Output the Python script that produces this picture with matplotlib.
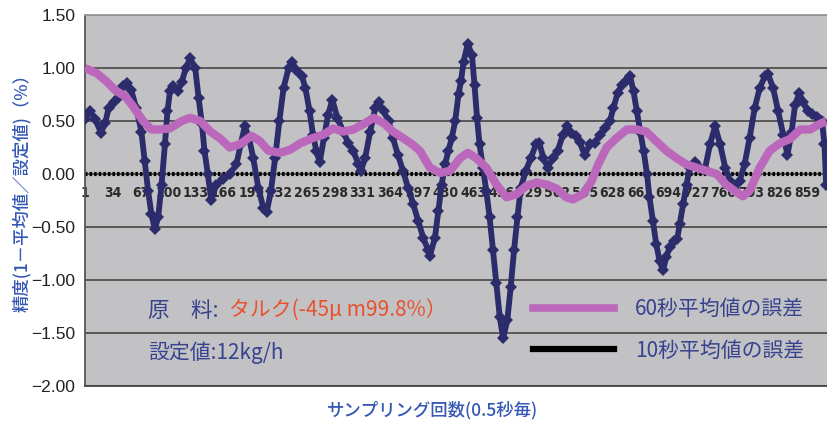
import matplotlib
matplotlib.use("Agg")
import matplotlib.pyplot as plt
from matplotlib.lines import Line2D

plt.rcParams['font.family'] = ['Noto Sans CJK JP', 'DejaVu Sans']

# ---- data -------------------------------------------------------------
# sample index (0.5 s per sample) and deviation of the individual readings (%)
raw_samples = [1, 7, 13, 20, 25, 29, 35, 41, 46, 51, 56, 62, 68, 72, 76, 80, 84, 88, 92, 96,
               99, 102, 106, 111, 116, 121, 126, 132, 136, 140, 143, 147, 151, 157, 165, 173,
               181, 186, 191, 196, 201, 207, 213, 217, 222, 227, 232, 237, 243, 247, 252, 259,
               263, 268, 272, 276, 280, 285, 290, 295, 301, 308, 314, 320, 326, 329, 334, 340,
               346, 350, 356, 362, 367, 373, 379, 385, 391, 397, 403, 409, 411, 417, 421, 425,
               429, 433, 437, 441, 445, 448, 451, 456, 461, 464, 467, 470, 474, 478, 482, 486,
               490, 494, 498, 503, 507, 511, 515, 519, 525, 531, 537, 541, 546, 551, 557, 563,
               569, 574, 579, 585, 589, 595, 601, 607, 613, 619, 625, 629, 634, 639, 645, 649,
               653, 657, 661, 665, 669, 672, 676, 680, 684, 688, 692, 696, 701, 705, 708, 712,
               716, 720, 726, 732, 738, 744, 750, 756, 762, 768, 773, 779, 785, 791, 797, 803,
               809, 813, 819, 825, 831, 836, 841, 845, 850, 855, 860, 865, 871, 877, 880, 882]
raw_error = [0.52, 0.59, 0.52, 0.39, 0.48, 0.62, 0.68, 0.73, 0.83, 0.86, 0.79, 0.62, 0.40, 0.12,
             -0.16, -0.38, -0.52, -0.41, -0.10, 0.28, 0.59, 0.78, 0.83, 0.78, 0.87, 1.00, 1.09,
             1.00, 0.72, 0.47, 0.22, 0.00, -0.25, -0.10, -0.05, 0.00, 0.09, 0.28, 0.45, 0.34,
             0.15, -0.13, -0.32, -0.36, -0.16, 0.15, 0.50, 0.81, 1.00, 1.06, 0.98, 0.92, 0.81,
             0.59, 0.37, 0.22, 0.11, 0.34, 0.56, 0.70, 0.53, 0.40, 0.29, 0.22, 0.09, 0.03, 0.15,
             0.40, 0.62, 0.68, 0.59, 0.50, 0.34, 0.18, 0.03, -0.13, -0.28, -0.44, -0.60, -0.72,
             -0.77, -0.60, -0.35, -0.10, 0.09, 0.22, 0.34, 0.50, 0.75, 0.88, 1.06, 1.23, 1.12,
             0.84, 0.53, 0.28, 0.06, -0.16, -0.41, -0.72, -1.03, -1.35, -1.55, -1.38, -1.07,
             -0.72, -0.41, -0.13, 0.03, 0.15, 0.28, 0.29, 0.15, 0.06, 0.15, 0.22, 0.37, 0.45,
             0.39, 0.36, 0.30, 0.18, 0.28, 0.29, 0.37, 0.43, 0.50, 0.62, 0.76, 0.84, 0.89, 0.92,
             0.78, 0.59, 0.40, 0.22, 0.00, -0.22, -0.44, -0.66, -0.82, -0.91, -0.78, -0.69,
             -0.63, -0.61, -0.47, -0.28, -0.10, 0.06, 0.11, 0.06, 0.05, 0.28, 0.45, 0.28, 0.06,
             -0.07, -0.13, -0.07, 0.09, 0.34, 0.62, 0.81, 0.92, 0.94, 0.81, 0.59, 0.37, 0.18,
             0.40, 0.65, 0.76, 0.68, 0.59, 0.57, 0.54, 0.50, 0.28, -0.10]

# 60-second moving-average error (%)
avg60_samples = [1, 15, 27, 37, 49, 58, 70, 80, 90, 102, 116, 126, 138, 150, 161, 173, 185, 199,
                 209, 219, 233, 245, 257, 272, 284, 296, 308, 320, 332, 344, 356, 367, 379, 390,
                 399, 411, 423, 435, 447, 456, 466, 478, 490, 502, 514, 526, 538, 550, 562, 573,
                 581, 593, 603, 611, 621, 633, 645, 657, 668, 680, 692, 704, 716, 728, 740, 752,
                 763, 775, 783, 791, 803, 815, 827, 839, 851, 863, 874, 882]
avg60_error = [1.00, 0.95, 0.87, 0.79, 0.73, 0.64, 0.50, 0.42, 0.42, 0.43, 0.50, 0.53, 0.50,
               0.40, 0.34, 0.25, 0.28, 0.36, 0.31, 0.22, 0.20, 0.23, 0.29, 0.34, 0.37, 0.43,
               0.40, 0.42, 0.47, 0.53, 0.48, 0.40, 0.34, 0.28, 0.22, 0.06, 0.01, 0.03, 0.15,
               0.20, 0.15, 0.06, -0.10, -0.22, -0.19, -0.11, -0.08, -0.10, -0.14, -0.22, -0.24,
               -0.19, -0.07, 0.09, 0.25, 0.34, 0.42, 0.42, 0.40, 0.31, 0.22, 0.15, 0.09, 0.06,
               0.03, 0.00, -0.10, -0.17, -0.21, -0.16, 0.06, 0.22, 0.29, 0.33, 0.42, 0.42, 0.47,
               0.50]

# 10-second average error (%)
avg10_samples = [1, 883]
avg10_error = [0.0, 0.0]

category_labels = ['1', '34', '67', '100', '133', '166', '199', '232', '265', '298', '331',
                   '364', '397', '430', '463', '496', '529', '562', '595', '628', '661', '694',
                   '727', '760', '793', '826', '859']
y_ticks = [-2.0, -1.5, -1.0, -0.5, 0.0, 0.5, 1.0, 1.5]

# ---- styling ----------------------------------------------------------
NAVY = '#2c2b6b'
PINK = '#bb68bc'
BLUE = '#3458b4'
TEXT_NAVY = '#37438f'
RED = '#e8512d'

W, H = 827, 421
fig = plt.figure(figsize=(W / 100, H / 100), dpi=100)
fig.patch.set_facecolor('white')
ax = fig.add_axes([85 / W, 35 / H, (W - 85) / W, 371 / H])
ax.set_facecolor('#c2c2c4')

ax.set_xlim(1, 883)
ax.set_ylim(-2.0, 1.5)
ax.set_yticks(y_ticks)
ax.set_yticklabels([f"{v:.2f}".replace('-', '\u2212') for v in y_ticks],
                   family=['Liberation Sans', 'DejaVu Sans'], fontsize=12.5, color='#222222')
ax.tick_params(axis='y', length=0, pad=7)
ax.set_xticks([])
ax.grid(axis='y', color='#505050', linewidth=1.3, zorder=0)
ax.set_axisbelow(True)

ax.spines['right'].set_visible(False)
ax.spines['top'].set_color('#9a9a9a')
ax.spines['left'].set_color('#555555')
ax.spines['bottom'].set_color('#444444')
for side in ('top', 'left', 'bottom'):
    ax.spines[side].set_linewidth(1.3)

# category labels sit inside the plot just under the zero line
for lbl in category_labels:
    ax.text(int(lbl), -0.175, lbl, ha='center', va='center', fontsize=10,
            family='DejaVu Sans', fontstretch='condensed', fontweight='bold',
            color='#2a2a2a', zorder=1.5)

# series
ax.plot(avg10_samples, avg10_error, color='black', linewidth=3,
        linestyle=(0, (0.6, 0.5)), zorder=2)
ax.plot(raw_samples, raw_error, color=NAVY, linewidth=4.2, marker='D', markersize=6,
        markeredgewidth=0, solid_joinstyle='round', zorder=3)
ax.plot(avg60_samples, avg60_error, color=PINK, linewidth=6, solid_capstyle='butt',
        solid_joinstyle='round', zorder=4)

# legend
handles = [Line2D([], [], color=PINK, linewidth=5.5),
           Line2D([], [], color='black', linewidth=4.5)]
ax.legend(handles, ['60秒平均値の誤差', '10秒平均値の誤差'], loc='upper left',
          bbox_to_anchor=((533 - 85) / 742, (386 - 298) / 371), frameon=False,
          fontsize=15, labelcolor=TEXT_NAVY, handlelength=3.9, handletextpad=1.0,
          labelspacing=0.95, borderpad=0, borderaxespad=0)

# material / set-point notes
ax.text((148 - 85) / 742, (386 - 311) / 371, '原\u3000料:', transform=ax.transAxes,
        ha='left', va='center', fontsize=15.5, color=TEXT_NAVY)
ax.text((229 - 85) / 742, (386 - 311) / 371, 'タルク(-45μ m99.8%）', transform=ax.transAxes,
        ha='left', va='center', fontsize=15, color=RED)
ax.text((148 - 85) / 742, (386 - 353) / 371, '設定値:12kg/h', transform=ax.transAxes,
        ha='left', va='center', fontsize=15, color=TEXT_NAVY)

# axis titles
fig.text(22 / W, 1 - 189 / H, '精度(1－平均値／設定値)（%）', rotation=90, ha='center',
         va='center', fontsize=12.5, fontweight='medium', color=BLUE)
fig.text(432 / W, 1 - 410 / H, 'サンプリング回数(0.5秒毎)', ha='center', va='center',
         fontsize=12.5, fontweight='medium', color=BLUE)

fig.savefig('out.png', dpi=100, facecolor='white')
